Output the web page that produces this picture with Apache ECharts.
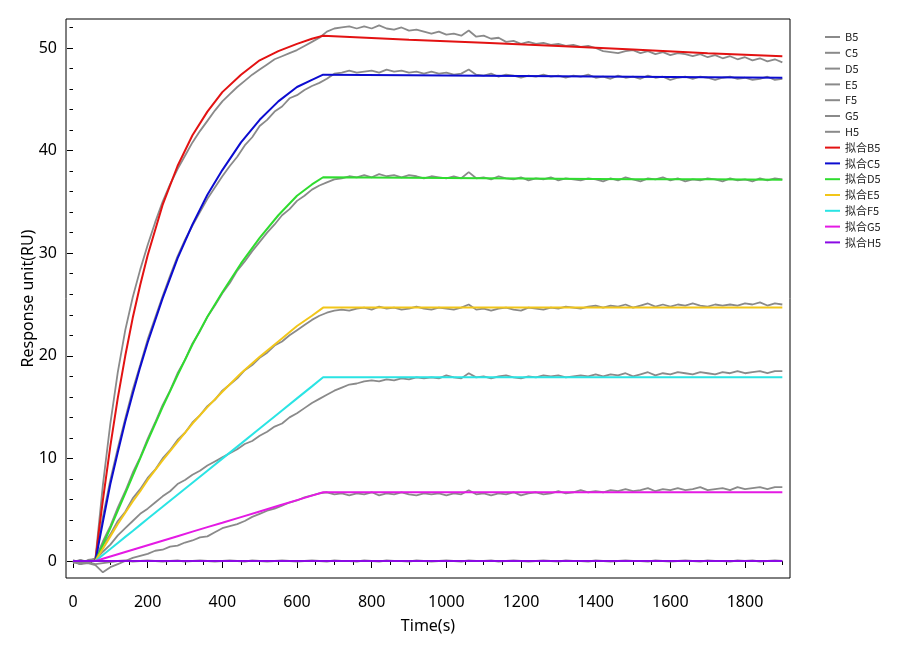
<!DOCTYPE html>
<html>
<head>
<meta charset="utf-8">
<title>SPR fit</title>
<script src="https://cdn.jsdelivr.net/npm/echarts@6.0.0/dist/echarts.min.js"></script>
<style>
    html, body { margin: 0; padding: 0; background: #fff; }
    #main { width: 900px; height: 650px; }
</style>
</head>
<body>
<div id="main"></div>
<script>
// raw sensorgram time points (s)
var time = [
    0, 20, 40, 60, 80, 100, 120, 140, 160, 180,
    200, 220, 240, 260, 280, 300, 320, 340, 360, 380,
    400, 420, 440, 460, 480, 500, 520, 540, 560, 580,
    600, 620, 640, 660, 680, 700, 720, 740, 760, 780,
    800, 820, 840, 860, 880, 900, 920, 940, 960, 980,
    1000, 1020, 1040, 1060, 1080, 1100, 1120, 1140, 1160, 1180,
    1200, 1220, 1240, 1260, 1280, 1300, 1320, 1340, 1360, 1380,
    1400, 1420, 1440, 1460, 1480, 1500, 1520, 1540, 1560, 1580,
    1600, 1620, 1640, 1660, 1680, 1700, 1720, 1740, 1760, 1780,
    1800, 1820, 1840, 1860, 1880, 1900
];

var rawB5 = [
    0.1, -0.2, 0.0, 0.2, 7.4, 13.4, 18.4, 22.5, 25.7, 28.4,
    30.8, 33.0, 35.0, 36.7, 38.2, 39.5, 40.8, 41.9, 42.9, 43.9,
    44.8, 45.5, 46.2, 46.8, 47.4, 47.9, 48.4, 48.9, 49.2, 49.5,
    49.8, 50.2, 50.6, 51.0, 51.6, 51.9, 52.0, 52.1, 51.9, 52.1,
    51.9, 52.2, 51.9, 51.8, 52.0, 51.7, 51.8, 51.6, 51.4, 51.6,
    51.3, 51.4, 51.2, 51.7, 51.1, 51.2, 50.9, 51.0, 50.6, 50.7,
    50.4, 50.6, 50.4, 50.5, 50.3, 50.4, 50.2, 50.3, 50.1, 50.2,
    50.0, 49.7, 49.6, 49.5, 49.7, 49.8, 49.5, 49.7, 49.4, 49.6,
    49.3, 49.5, 49.4, 49.2, 49.4, 49.1, 49.3, 49.0, 49.2, 48.9,
    49.1, 48.8, 49.0, 48.7, 48.9, 48.6
];
var rawC5 = [
    -0.1, 0.1, -0.2, 0.3, 4.3, 7.9, 11.0, 13.9, 16.7, 19.1,
    21.6, 23.7, 25.8, 27.8, 29.7, 31.3, 32.7, 34.0, 35.3, 36.4,
    37.5, 38.5, 39.4, 40.5, 41.3, 42.4, 43.0, 43.8, 44.3, 45.1,
    45.4, 45.9, 46.3, 46.6, 47.0, 47.5, 47.6, 47.8, 47.6, 47.7,
    47.8, 47.6, 47.9, 47.7, 47.8, 47.6, 47.7, 47.5, 47.7, 47.5,
    47.6, 47.4, 47.5, 47.9, 47.4, 47.3, 47.5, 47.2, 47.4, 47.3,
    47.1, 47.3, 47.2, 47.4, 47.2, 47.3, 47.1, 47.3, 47.2, 47.4,
    47.1, 47.2, 47.0, 47.3, 47.1, 47.2, 47.0, 47.3, 47.1, 47.2,
    46.9, 47.1, 47.2, 47.0, 47.2, 47.1, 46.9, 47.1, 47.2, 47.0,
    47.1, 46.9, 47.0, 47.2, 46.9, 47.0
];
var rawD5 = [
    0.0, -0.3, 0.1, 0.2, 1.9, 3.4, 5.2, 6.8, 8.6, 10.1,
    11.9, 13.5, 15.2, 16.6, 18.3, 19.6, 21.2, 22.4, 23.8, 24.9,
    26.1, 27.1, 28.3, 29.2, 30.2, 31.1, 32.0, 32.8, 33.7, 34.3,
    35.1, 35.6, 36.2, 36.6, 36.9, 37.2, 37.3, 37.5, 37.4, 37.6,
    37.4, 37.7, 37.5, 37.6, 37.4, 37.6, 37.5, 37.3, 37.5, 37.4,
    37.3, 37.5, 37.3, 37.9, 37.3, 37.4, 37.2, 37.5, 37.3, 37.2,
    37.4, 37.1, 37.3, 37.2, 37.4, 37.1, 37.3, 37.2, 37.1, 37.3,
    37.2, 37.0, 37.3, 37.1, 37.4, 37.2, 37.0, 37.3, 37.2, 37.4,
    37.1, 37.3, 37.0, 37.2, 37.1, 37.3, 37.2, 37.0, 37.3, 37.1,
    37.2, 37.0, 37.3, 37.1, 37.3, 37.2
];
var rawE5 = [
    -0.2, 0.1, -0.1, 0.2, 1.5, 2.6, 3.9, 4.8, 6.1, 7.0,
    8.1, 8.9, 10.0, 10.8, 11.8, 12.5, 13.5, 14.2, 15.1, 15.7,
    16.6, 17.2, 17.8, 18.6, 19.1, 19.8, 20.3, 21.0, 21.4, 22.0,
    22.5, 23.0, 23.5, 23.9, 24.2, 24.4, 24.5, 24.4, 24.6, 24.7,
    24.5, 24.8, 24.6, 24.7, 24.5, 24.6, 24.8, 24.6, 24.5, 24.7,
    24.6, 24.5, 24.7, 25.0, 24.5, 24.6, 24.4, 24.6, 24.7, 24.5,
    24.4, 24.7, 24.6, 24.5, 24.7, 24.6, 24.8, 24.7, 24.6, 24.8,
    24.9, 24.7, 24.9, 24.8, 25.0, 24.7, 24.9, 25.1, 24.8, 25.0,
    24.8, 25.0, 24.9, 25.1, 24.9, 24.8, 25.0, 24.9, 25.0, 24.9,
    25.1, 25.0, 25.2, 24.9, 25.1, 25.0
];
var rawF5 = [
    -0.1, -0.3, 0.0, 0.1, 0.9, 1.6, 2.5, 3.2, 3.9, 4.6,
    5.1, 5.7, 6.3, 6.8, 7.5, 7.9, 8.4, 8.8, 9.3, 9.7,
    10.1, 10.5, 10.9, 11.4, 11.7, 12.2, 12.6, 13.1, 13.4, 14.0,
    14.4, 14.9, 15.4, 15.8, 16.2, 16.6, 16.9, 17.2, 17.3, 17.5,
    17.6, 17.5, 17.7, 17.6, 17.8, 17.7, 17.9, 17.8, 17.9, 17.8,
    18.1, 17.9, 17.8, 18.3, 17.9, 18.0, 17.8, 18.0, 18.1, 17.9,
    17.8, 18.0, 17.9, 18.1, 18.0, 18.1, 17.9, 18.0, 18.1, 18.0,
    18.2, 18.0, 18.2, 18.1, 18.3, 18.0, 18.2, 18.4, 18.1, 18.3,
    18.2, 18.4, 18.3, 18.2, 18.4, 18.3, 18.2, 18.4, 18.3, 18.5,
    18.3, 18.4, 18.5, 18.3, 18.5, 18.5
];
var rawG5 = [
    0.0, -0.3, -0.2, -0.4, -1.1, -0.6, -0.3, 0.0, 0.3, 0.5,
    0.7, 1.0, 1.1, 1.4, 1.5, 1.8, 2.0, 2.3, 2.4, 2.8,
    3.2, 3.4, 3.6, 3.9, 4.3, 4.6, 4.9, 5.1, 5.4, 5.7,
    5.9, 6.2, 6.4, 6.6, 6.7, 6.5, 6.6, 6.4, 6.6, 6.5,
    6.7, 6.4, 6.6, 6.5, 6.7, 6.5, 6.4, 6.6, 6.5, 6.6,
    6.4, 6.6, 6.5, 6.9, 6.5, 6.6, 6.4, 6.6, 6.5, 6.7,
    6.4, 6.6, 6.7, 6.5, 6.6, 6.8, 6.6, 6.7, 6.9, 6.7,
    6.8, 6.7, 6.9, 6.8, 7.0, 6.8, 6.9, 7.1, 6.8, 7.0,
    6.9, 7.1, 6.9, 7.0, 7.2, 6.9, 7.0, 7.1, 6.9, 7.2,
    7.0, 7.1, 7.2, 7.0, 7.2, 7.2
];
var rawH5 = [
    0.0, -0.2, -0.1, -0.3, -0.2, -0.1, 0.0, 0.05, -0.05, 0.0,
    0.05, 0.0, -0.05, 0.0, 0.05, -0.05, 0.0, 0.05, 0.0, -0.05,
    0.0, 0.05, 0.0, -0.05, 0.05, 0.0, -0.05, 0.0, 0.05, 0.0,
    -0.05, 0.0, 0.05, 0.0, -0.05, 0.05, 0.0, 0.0, -0.05, 0.05,
    0.0, -0.05, 0.05, 0.0, 0.0, -0.05, 0.05, 0.0, -0.05, 0.0,
    0.05, 0.0, -0.05, 0.05, 0.0, 0.0, 0.05, -0.05, 0.0, 0.05,
    0.0, -0.05, 0.0, 0.05, 0.0, -0.05, 0.05, 0.0, 0.0, -0.05,
    0.05, 0.0, -0.05, 0.0, 0.05, 0.0, 0.0, -0.05, 0.05, 0.0,
    -0.05, 0.0, 0.05, 0.0, -0.05, 0.05, 0.0, 0.0, -0.05, 0.05,
    0.0, 0.05, -0.05, 0.0, 0.05, 0.0
];

// fitted curves
var fitTime = [0, 60, 70, 80, 100, 120, 140, 160, 180, 200, 240, 280, 320, 360, 400, 450, 500, 550, 600, 640, 670, 900, 1100, 1300, 1500, 1700, 1900];
var fitB5 = [0, 0, 3.1, 5.9, 11.2, 15.9, 20.0, 23.7, 26.9, 29.8, 34.7, 38.5, 41.5, 43.8, 45.7, 47.4, 48.8, 49.7, 50.4, 50.9, 51.2, 50.8, 50.5, 50.2, 49.85, 49.5, 49.2];
var fitC5 = [0, 0, 1.9, 3.8, 7.5, 10.6, 13.6, 16.3, 18.9, 21.3, 25.6, 29.5, 32.8, 35.7, 38.1, 40.8, 43.0, 44.8, 46.2, 46.9, 47.4, 47.35, 47.3, 47.25, 47.2, 47.15, 47.1];
var fitD5 = [0, 0, 0.8, 1.6, 3.2, 4.9, 6.6, 8.3, 10.0, 11.7, 15.0, 18.1, 21.1, 23.8, 26.2, 29.0, 31.5, 33.7, 35.6, 36.7, 37.4, 37.35, 37.3, 37.25, 37.2, 37.2, 37.15];
var fitE5 = [0, 0, 0.6, 1.2, 2.4, 3.6, 4.7, 5.8, 6.8, 7.9, 9.8, 11.6, 13.4, 15.0, 16.5, 18.3, 19.9, 21.4, 22.9, 23.9, 24.7, 24.7, 24.7, 24.7, 24.7, 24.7, 24.7];
var fitF5 = [0, 0, 0.29, 0.59, 1.17, 1.76, 2.35, 2.93, 3.52, 4.11, 5.28, 6.46, 7.63, 8.8, 9.98, 11.44, 12.91, 14.38, 15.85, 17.02, 17.9, 17.9, 17.9, 17.9, 17.9, 17.9, 17.9];
var fitG5 = [0, 0, 0.11, 0.22, 0.44, 0.66, 0.88, 1.1, 1.32, 1.54, 1.98, 2.42, 2.86, 3.3, 3.73, 4.28, 4.83, 5.38, 5.93, 6.37, 6.7, 6.7, 6.7, 6.7, 6.7, 6.7, 6.7];
var fitH5 = [0, 0, 0, 0, 0, 0, 0, 0, 0, 0, 0, 0, 0, 0, 0, 0, 0, 0, 0, 0, 0, 0, 0, 0, 0, 0, 0];

var rawNames = ['B5', 'C5', 'D5', 'E5', 'F5', 'G5', 'H5'];
var fitNames = ['拟合B5', '拟合C5', '拟合D5', '拟合E5', '拟合F5', '拟合G5', '拟合H5'];
var rawData = [rawB5, rawC5, rawD5, rawE5, rawF5, rawG5, rawH5];
var fitData = [fitB5, fitC5, fitD5, fitE5, fitF5, fitG5, fitH5];
var fitColors = ['#e31212', '#0c0cd0', '#2fdc2f', '#f2c619', '#2ae4e4', '#e41ae4', '#8a0ae4'];
var rawColor = '#8a8a8a';

var font = 'Noto Sans';

function pairs(xs, ys) {
    var out = [];
    for (var i = 0; i < xs.length; i++) {
        out.push([xs[i], ys[i]]);
    }
    return out;
}

// data lives on the 0..1900 / 0..52 axes (grid 2), the other grids only carry the frame and major ticks
var series = [];
rawNames.forEach(function (name, i) {
    series.push({
        name: name,
        type: 'line',
        xAxisIndex: 2,
        yAxisIndex: 2,
        data: pairs(time, rawData[i]),
        showSymbol: false,
        symbol: 'none',
        clip: false,
        color: rawColor,
        lineStyle: { color: rawColor, width: 1.8 }
    });
});
fitNames.forEach(function (name, i) {
    series.push({
        name: name,
        type: 'line',
        xAxisIndex: 2,
        yAxisIndex: 2,
        data: pairs(fitTime, fitData[i]),
        showSymbol: false,
        symbol: 'none',
        clip: false,
        color: fitColors[i],
        lineStyle: { color: fitColors[i], width: 2 }
    });
});

var myChart = echarts.init(document.getElementById('main'));

var option = {
    animation: false,
    backgroundColor: '#fff',
    legend: {
        orient: 'vertical',
        left: 825,
        top: 31,
        padding: 0,
        itemGap: 3.8,
        itemWidth: 15,
        itemHeight: 2,
        icon: 'rect',
        textStyle: { fontFamily: 'Noto Sans CJK SC', fontSize: 11, color: '#222', lineHeight: 12 },
        data: rawNames.concat(fitNames)
    },
    grid: [
        // frame box
        { left: 66, top: 19, width: 724, height: 559, show: true, borderColor: '#000', borderWidth: 1, backgroundColor: 'transparent' },
        // major ticks
        { left: 73, top: 48, width: 672, height: 513 },
        // minor ticks + data
        { left: 73, top: 27.48, width: 709.33, height: 533.52 }
    ],
    xAxis: [
        {
            gridIndex: 0, type: 'value', min: 0, max: 1,
            name: 'Time(s)', nameLocation: 'middle', nameGap: 40,
            nameTextStyle: { fontFamily: font, fontSize: 16, color: '#000' },
            axisLine: { show: false }, axisTick: { show: false }, axisLabel: { show: false }, splitLine: { show: false }
        },
        {
            gridIndex: 1, type: 'value', min: 0, max: 1800, interval: 200, offset: 19,
            axisLine: { show: false },
            axisTick: { show: true, inside: false, length: 7, lineStyle: { color: '#000', width: 1 } },
            axisLabel: {
                fontFamily: font, fontSize: 16, color: '#000', margin: 14,
                formatter: function (v) { return String(v); }
            },
            splitLine: { show: false }
        },
        {
            gridIndex: 2, type: 'value', min: 0, max: 1900, interval: 50, offset: 19,
            axisLine: { show: false },
            axisTick: { show: true, inside: false, length: 4, lineStyle: { color: '#000', width: 1 } },
            axisLabel: { show: false },
            splitLine: { show: false }
        }
    ],
    yAxis: [
        {
            gridIndex: 0, type: 'value', min: 0, max: 1,
            name: 'Response unit(RU)', nameLocation: 'middle', nameGap: 30,
            nameTextStyle: { fontFamily: font, fontSize: 16, color: '#000' },
            axisLine: { show: false }, axisTick: { show: false }, axisLabel: { show: false }, splitLine: { show: false }
        },
        {
            gridIndex: 1, type: 'value', min: 0, max: 50, interval: 10, offset: 8,
            axisLine: { show: false },
            axisTick: { show: true, inside: false, length: 6, lineStyle: { color: '#000', width: 1 } },
            axisLabel: { fontFamily: font, fontSize: 16, color: '#000', margin: 8 },
            splitLine: { show: false }
        },
        {
            gridIndex: 2, type: 'value', min: 0, max: 52, interval: 2, offset: 8,
            axisLine: { show: false },
            axisTick: { show: true, inside: false, length: 3.5, lineStyle: { color: '#000', width: 1 } },
            axisLabel: { show: false },
            splitLine: { show: false }
        }
    ],
    series: series
};

myChart.setOption(option);

window.addEventListener("resize", function () {
    myChart.resize();
});
</script>
</body>
</html>
